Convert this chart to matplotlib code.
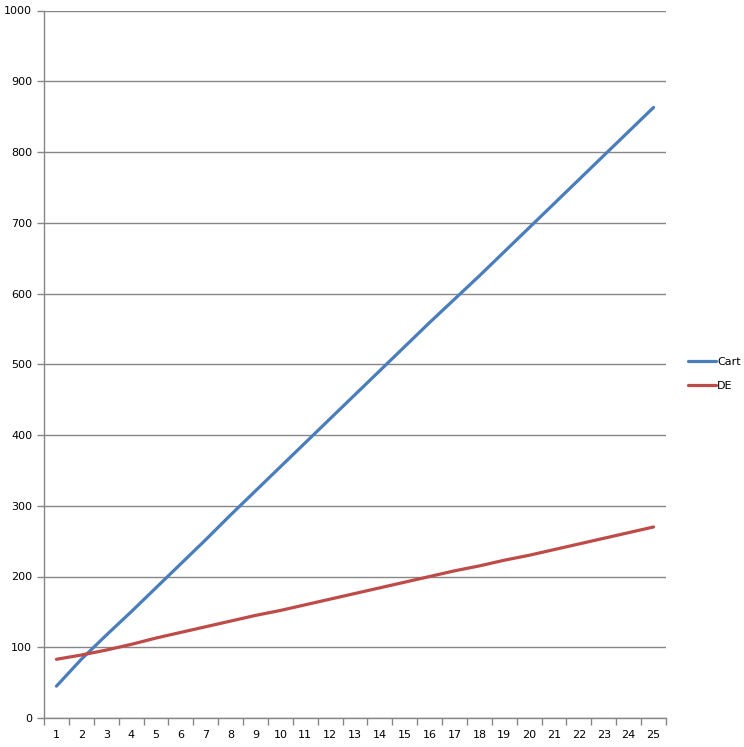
import matplotlib
matplotlib.use("Agg")
import matplotlib.pyplot as plt
import numpy as np

# category labels and series values
categories = [str(i) for i in range(1, 26)]
cart = [45, 83, 117, 150, 184, 218, 252, 287, 321, 355, 389, 423, 457,
        491, 525, 559, 592, 625, 659, 693, 727, 761, 795, 829, 863]
de = [83, 89, 96, 104, 113, 121, 129, 137, 145, 152, 160, 168, 176,
      184, 192, 200, 208, 215, 223, 230, 238, 246, 254, 262, 270]
y_ticks = list(range(0, 1001, 100))

grey = "#868686"

fig = plt.figure(figsize=(7.44, 7.47), dpi=100)
ax = fig.add_axes([44 / 744, 29 / 747, 622 / 744, 707.5 / 747])

x = np.arange(len(categories)) + 0.5
ax.plot(x, cart, color="#4A7EBB", linewidth=2.3, label="Cart", solid_capstyle="round")
ax.plot(x, de, color="#BE4B48", linewidth=2.3, label="DE", solid_capstyle="round")

ax.set_xlim(0, len(categories))
ax.set_ylim(0, 1000)

# y axis
ax.set_yticks(y_ticks)
ax.set_yticklabels([str(v) for v in y_ticks])
ax.yaxis.grid(True, color=grey, linewidth=1)
ax.set_axisbelow(True)

# x axis: tick marks at category boundaries, labels at centers
ax.set_xticks(np.arange(len(categories) + 1))
ax.set_xticklabels([])
ax.set_xticks(x, minor=True)
ax.set_xticklabels(categories, minor=True)
ax.tick_params(axis="x", which="minor", length=0, pad=9)
ax.tick_params(axis="both", which="major", length=5, width=1, color=grey)
ax.tick_params(axis="both", labelsize=8, labelcolor="black")
ax.tick_params(axis="x", which="minor", labelsize=8)

for side in ["top", "right"]:
    ax.spines[side].set_visible(False)
for side in ["left", "bottom"]:
    ax.spines[side].set_color(grey)
    ax.spines[side].set_linewidth(1)

fig.legend(loc="center left", bbox_to_anchor=(684 / 744, 1 - 374 / 747),
           frameon=False, fontsize=8, handlelength=2.5, handletextpad=0.1,
           labelspacing=1.2, borderaxespad=0)

fig.savefig("out.png", dpi=100, facecolor="white")
